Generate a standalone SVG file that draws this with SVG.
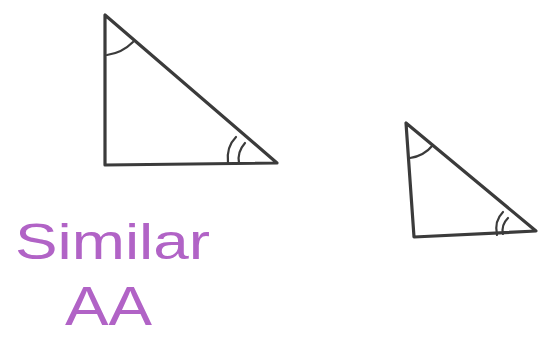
<svg xmlns="http://www.w3.org/2000/svg" width="548" height="339" viewBox="0 0 548 339">
<style>
.tri{fill:none;stroke:#3b3b3b;stroke-width:3.2;stroke-linejoin:round;stroke-linecap:round}
.arc{fill:none;stroke:#3b3b3b;stroke-width:2.2;stroke-linecap:round}
.lbl{font-family:"Liberation Sans",Arial,sans-serif;fill:#b163c6;font-weight:normal}
</style>
<rect width="548" height="339" fill="#ffffff"/>
<g id="triangle-large">
<path class="tri" d="M105,15 L105,165 L277,163 Z"/>
<path class="arc" d="M107,55 Q122,53 133,42"/>
<path class="arc" d="M228,163 Q226,147 236,137"/>
<path class="arc" d="M239,163 Q237,152 245,143"/>
</g>
<g id="triangle-small">
<path class="tri" d="M406,123 L414,237 L536,231 Z"/>
<path class="arc" d="M410,158 Q424,156 433,145"/>
<path class="arc" d="M497,235 Q494,221 503,212"/>
<path class="arc" d="M503,234 Q501,225 508,218"/>
</g>
<text class="lbl" x="15" y="259" font-size="50" textLength="195" lengthAdjust="spacingAndGlyphs">Similar</text>
<text class="lbl" x="65" y="325" font-size="56" textLength="87" lengthAdjust="spacingAndGlyphs">AA</text>
</svg>
